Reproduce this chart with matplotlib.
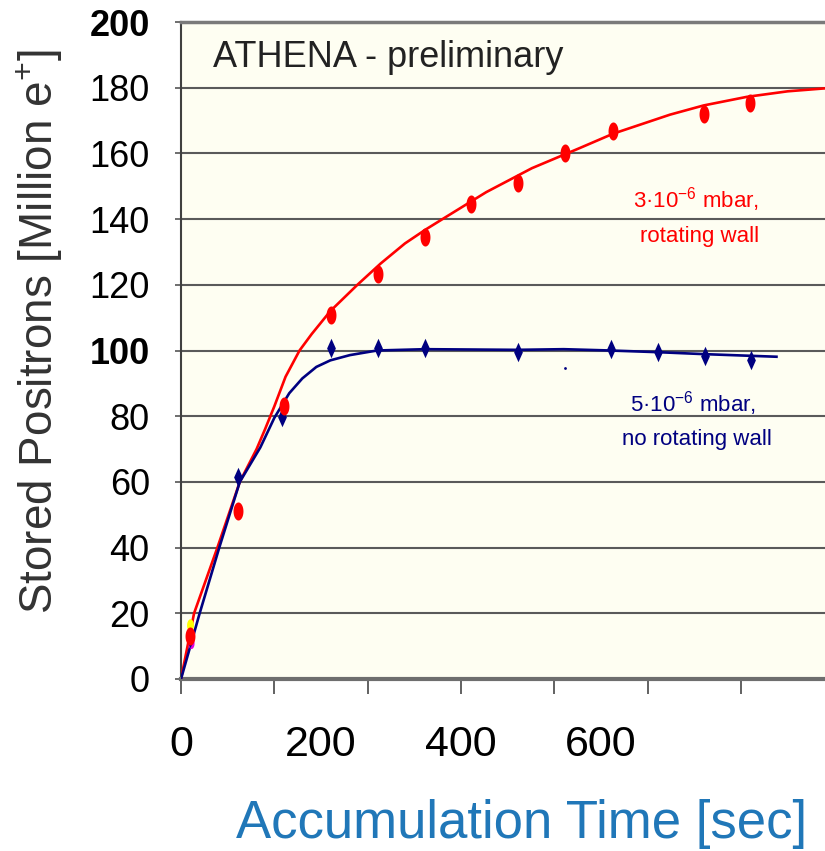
import numpy as np
import matplotlib
matplotlib.use("Agg")
import matplotlib.pyplot as plt

plt.rcParams["font.family"] = ["Liberation Sans", "DejaVu Sans"]
plt.rcParams["mathtext.fontset"] = "custom"
plt.rcParams["mathtext.rm"] = "Liberation Sans"
plt.rcParams["mathtext.it"] = "Liberation Sans"

# measured points, 3e-6 mbar with rotating wall
red_t = [10, 61, 110, 161, 211, 261, 311, 361, 411, 463, 560, 610]
red_n = [13.0, 51.0, 83.0, 110.8, 123.3, 134.6, 144.6, 150.9, 160.0, 166.8, 171.9, 175.2]

# measured points, 5e-6 mbar without rotating wall
blue_t = [10, 61, 108, 161, 211, 261, 361, 461, 511, 561, 611]
blue_n = [12.5, 61.4, 79.7, 100.8, 100.8, 100.8, 99.4, 100.5, 99.4, 98.4, 97.1]

# fit curves as drawn in the original
red_fit_t = [0, 14, 39, 63, 81, 90, 100, 112, 127, 140, 160, 189, 214, 240, 262, 283, 327,
             376, 427, 463, 524, 560, 606, 650, 690]
red_fit_n = [0, 20, 40, 60, 70, 76, 83, 92, 100, 105, 112, 120, 126.5, 132.6, 136.8, 140.5, 148.2,
             155.5, 161.6, 166, 171.8, 174.6, 177.2, 178.9, 179.8]
blue_fit_t = [0, 20, 41, 63, 85, 100, 116, 130, 145, 160, 181, 210, 262, 360, 410, 460, 510, 560, 638]
blue_fit_n = [0, 20, 40, 60, 70.5, 79.5, 87, 91.5, 95, 97, 98.6, 100, 100.4, 100.2, 100.4, 100, 99.5, 98.9, 98.1]

y_ticks = list(range(0, 201, 20))
x_label_pos = [0, 150, 300, 450]
x_label_txt = ["0", "200", "400", "600"]

W, H = 825, 851
fig = plt.figure(figsize=(W / 100, H / 100), dpi=100)
ax = fig.add_axes([181 / W, 1 - 679 / H, 644 / W, 657 / H])
ax.set_facecolor("#fefef2")

# marker shapes
th = np.linspace(0, 2 * np.pi, 40)
ellipse = list(zip(0.55 * np.cos(th), np.sin(th)))
diamond = [(0, 1), (0.45, 0), (0, -1), (-0.45, 0), (0, 1)]

ax.plot(red_fit_t, red_fit_n, color="#ff0000", lw=1.9, zorder=3)
ax.plot(blue_fit_t, blue_fit_n, color="#000080", lw=1.9, zorder=3)
ax.plot([10], [16.5], ls="none", marker=ellipse, ms=9, color="#ffff00", mec="none", zorder=4)
ax.plot([10.5], [11], ls="none", marker=ellipse, ms=8, color="#e000e0", mec="none", zorder=4)
ax.plot(blue_t, blue_n, ls="none", marker=diamond, ms=14, color="#000080", mec="none", zorder=5)
ax.plot(red_t, red_n, ls="none", marker=ellipse, ms=13, color="#ff0000", mec="none", zorder=6)
ax.plot([411.5], [94.8], ls="none", marker="o", ms=2, color="#000080", mec="none", zorder=5)

ax.set_xlim(0, 690)
ax.set_ylim(0, 200)

ax.set_yticks(y_ticks)
ax.set_yticklabels([str(v) for v in y_ticks])
for lbl in ax.get_yticklabels():
    if lbl.get_text() in ("100", "200"):
        lbl.set_fontweight("bold")
ax.tick_params(axis="y", direction="out", length=4.5, width=1.2, color="#555555",
               labelsize=26, pad=18)

ax.xaxis.remove_overlapping_locs = False
ax.set_xticks(x_label_pos)
ax.set_xticklabels(x_label_txt)
ax.set_xticks(range(0, 601, 100), minor=True)
ax.tick_params(axis="x", which="major", length=0, labelsize=31, pad=33)
ax.tick_params(axis="x", which="minor", direction="out", length=10.5, width=1.3, color="#555555")

ax.yaxis.grid(True, color="#5a5a5a", lw=1.5)
ax.set_axisbelow(True)

ax.spines["right"].set_visible(False)
ax.spines["top"].set_color("#7a7a7a")
ax.spines["top"].set_linewidth(2.5)
ax.spines["bottom"].set_color("#6e6e6e")
ax.spines["bottom"].set_linewidth(3)
ax.spines["left"].set_color("#404040")
ax.spines["left"].set_linewidth(1.5)

fig.text(40 / W, 1 - 332 / H, "Stored Positrons [Million e$^{+}$]", rotation=90,
         ha="center", va="center", fontsize=33, color="#333333")
fig.text(522 / W, 1 - 838 / H, "Accumulation Time [sec]", ha="center", va="baseline",
         fontsize=38, color="#2077b8")
fig.text(213 / W, 1 - 67 / H, "ATHENA - preliminary", ha="left", va="baseline",
         fontsize=26, color="#222222")

fig.text(696 / W, 1 - 208 / H, "3·10$^{-6}$ mbar,", ha="center", va="baseline",
         fontsize=16, color="#ff0000")
fig.text(700 / W, 1 - 242 / H, "rotating wall", ha="center", va="baseline",
         fontsize=16, color="#ff0000")
fig.text(693 / W, 1 - 412 / H, "5·10$^{-6}$ mbar,", ha="center", va="baseline",
         fontsize=16, color="#000080")
fig.text(697 / W, 1 - 445 / H, "no rotating wall", ha="center", va="baseline",
         fontsize=16, color="#000080")

fig.savefig("out.png", dpi=100)
